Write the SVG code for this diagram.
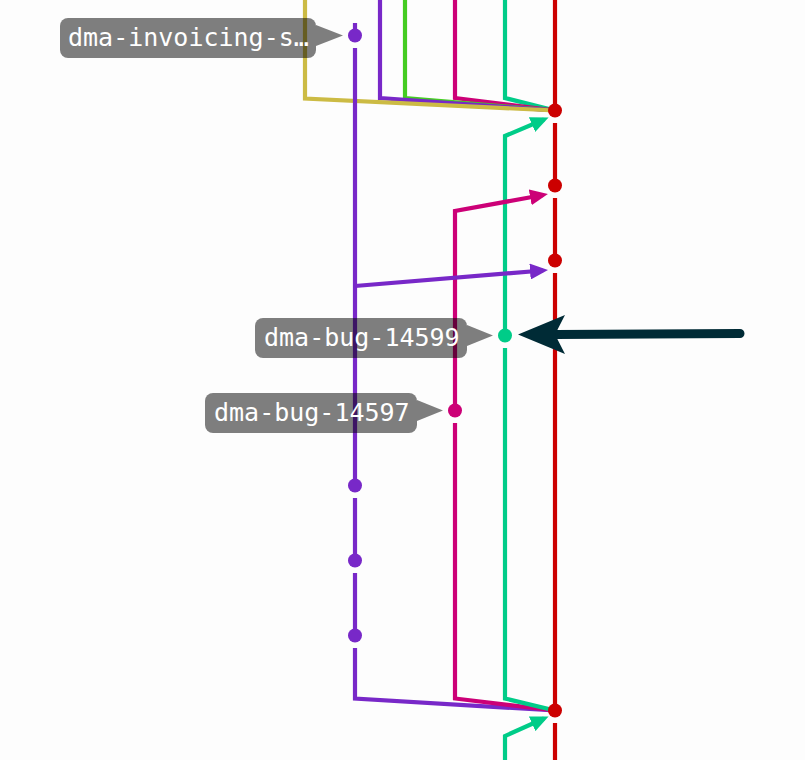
<svg xmlns="http://www.w3.org/2000/svg" width="805" height="760" viewBox="0 0 805 760">
<style>
.l{fill:none;stroke-width:4.2;stroke-linejoin:miter}
.red{stroke:#cc0000}.pur{stroke:#7828c8}.mag{stroke:#cc0077}.tea{stroke:#00cc88}.grn{stroke:#44cc22}.yel{stroke:#ccbb44}
.lbl{fill:#000;fill-opacity:0.5}
.t{font-family:"DejaVu Sans Mono",monospace;font-size:25px;fill:#fff}
</style>
<defs>
<marker id="aPur" viewBox="0 0 18 16" refX="13" refY="8" markerWidth="18" markerHeight="16" markerUnits="userSpaceOnUse" orient="auto"><path d="M0,0L18,8L0,16z" fill="#7828c8"/></marker>
<marker id="aMag" viewBox="0 0 18 16" refX="13" refY="8" markerWidth="18" markerHeight="16" markerUnits="userSpaceOnUse" orient="auto"><path d="M0,0L18,8L0,16z" fill="#cc0077"/></marker>
<marker id="aTea" viewBox="0 0 18 16" refX="13" refY="8" markerWidth="18" markerHeight="16" markerUnits="userSpaceOnUse" orient="auto"><path d="M0,0L18,8L0,16z" fill="#00cc88"/></marker>
</defs>
<rect width="805" height="760" fill="#fdfdfd"/>
<g id="connectors">
<path class="l tea" d="M505,0V98L555,110.5"/>
<path class="l mag" d="M455,0V98L555,110.5"/>
<path class="l grn" d="M405,0V98L555,110.5"/>
<path class="l pur" d="M380,0V98L555,110.5"/>
<path class="l yel" d="M305,0V98.5L555,110.5"/>
<path class="l red" d="M555,0V110M555,123V185M555,198V260M555,273V710M555,723V760"/>
<path class="l tea" d="M505,335V136L544,119.5" marker-end="url(#aTea)"/>
<path class="l mag" d="M455,410V211L543,195" marker-end="url(#aMag)"/>
<path class="l pur" d="M355,23V35M355,48V485M355,498V560M355,573V635M355,648V698.5L555,710.5"/>
<path class="l pur" d="M355,286L543,270.5" marker-end="url(#aPur)"/>
<path class="l mag" d="M455,423V698.5L555,710.5"/>
<path class="l tea" d="M505,348V698.5L555,710.5"/>
<path class="l tea" d="M505,760V736L544,718.5" marker-end="url(#aTea)"/>
</g>
<g id="commit-red-110"><circle cx="555" cy="110.5" r="7" fill="#cc0000"/></g>
<g id="commit-red-185"><circle cx="555" cy="185.5" r="7" fill="#cc0000"/></g>
<g id="commit-red-260"><circle cx="555" cy="260.5" r="7" fill="#cc0000"/></g>
<g id="commit-red-710"><circle cx="555" cy="710.5" r="7" fill="#cc0000"/></g>
<g id="commit-purple-35"><circle cx="355" cy="35.5" r="7" fill="#7828c8"/></g>
<g id="commit-purple-485"><circle cx="355" cy="485.5" r="7" fill="#7828c8"/></g>
<g id="commit-purple-560"><circle cx="355" cy="560.5" r="7" fill="#7828c8"/></g>
<g id="commit-purple-635"><circle cx="355" cy="635.5" r="7" fill="#7828c8"/></g>
<g id="commit-teal-335"><circle cx="505" cy="335.5" r="7" fill="#00cc88"/></g>
<g id="commit-magenta-410"><circle cx="455" cy="410.5" r="7" fill="#cc0077"/></g>
<g id="label-invoicing">
<rect class="lbl" x="60" y="18" width="256" height="40" rx="8"/>
<path class="lbl" d="M316,25L343,35.5L316,46z"/>
<text class="t" x="68" y="46">dma-invoicing-s…</text>
</g>
<g id="label-14599">
<rect class="lbl" x="255" y="318" width="212" height="40" rx="8"/>
<path class="lbl" d="M467,325L493,335.5L467,346z"/>
<text class="t" x="264" y="346">dma-bug-14599</text>
</g>
<g id="label-14597">
<rect class="lbl" x="205" y="393" width="212" height="40" rx="8"/>
<path class="lbl" d="M417,400L443,410.5L417,421z"/>
<text class="t" x="214" y="421">dma-bug-14597</text>
</g>
<g id="pointer">
<path d="M740,333.5L556,334.5" fill="none" stroke="#002b36" stroke-width="9" stroke-linecap="round"/>
<path d="M518,334.5L565,315L555,334.5L565,354z" fill="#002b36"/>
</g>
</svg>
